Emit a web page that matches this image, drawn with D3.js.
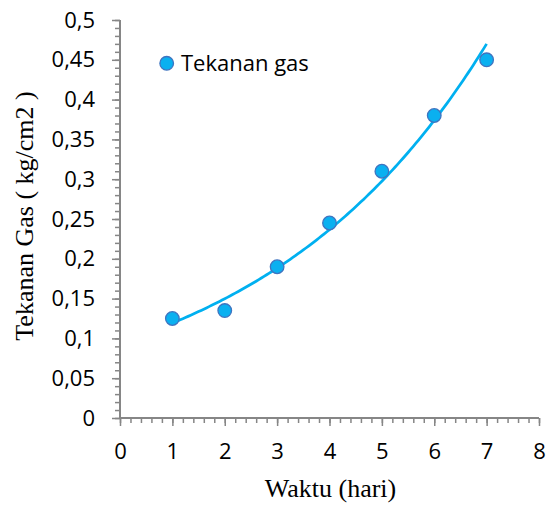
<!DOCTYPE html>
<html>
<head>
<meta charset="utf-8">
<script src="https://cdn.jsdelivr.net/npm/d3@7"></script>
<style>
  html, body { margin: 0; padding: 0; background: #fff; }
  svg { display: block; }
</style>
</head>
<body>
<svg id="chart" width="553" height="507"></svg>
<script>
// ---- data ----
const days = [1, 2, 3, 4, 5, 6, 7];
const pressure = [0.125, 0.135, 0.19, 0.245, 0.31, 0.38, 0.45];
const seriesName = "Tekanan gas";
const xTicks = [0, 1, 2, 3, 4, 5, 6, 7, 8];
const yTicks = [0, 0.05, 0.1, 0.15, 0.2, 0.25, 0.3, 0.35, 0.4, 0.45, 0.5];
const yTickLabels = ["0", "0,05", "0,1", "0,15", "0,2", "0,25", "0,3", "0,35", "0,4", "0,45", "0,5"];
const xTitle = "Waktu (hari)";
const yTitle = "Tekanan Gas ( kg/cm2 )";

// ---- layout ----
const svg = d3.select("#chart");
const x = d3.scaleLinear().domain([0, 8]).range([120, 539]);
const y = d3.scaleLinear().domain([0, 0.5]).range([418, 20]);
const axisColor = "#868686";
const lineColor = "#00B0F0";
const tickFont = "'Open Sans', sans-serif";

// minor ticks
const xMinor = d3.range(0, 8.0001, 0.2);
const yMinor = d3.range(0, 0.50001, 0.01);

const gxMinor = svg.append("g").attr("transform", `translate(0,${y(0)})`)
  .call(d3.axisBottom(x).tickValues(xMinor).tickSize(5).tickFormat(""));
const gyMinor = svg.append("g").attr("transform", `translate(${x(0)},0)`)
  .call(d3.axisLeft(y).tickValues(yMinor).tickSize(5).tickFormat(""));

const gx = svg.append("g").attr("transform", `translate(0,${y(0)})`)
  .call(d3.axisBottom(x).tickValues(xTicks).tickSize(8).tickPadding(17).tickFormat(d => String(d)));
const gy = svg.append("g").attr("transform", `translate(${x(0)},0)`)
  .call(d3.axisLeft(y).tickValues(yTicks).tickSize(8).tickPadding(17)
    .tickFormat((d, i) => yTickLabels[i]));

[gxMinor, gyMinor, gx, gy].forEach(g => {
  g.selectAll("path.domain").attr("stroke", axisColor).attr("stroke-width", 2);
  g.selectAll(".tick line").attr("stroke", axisColor).attr("stroke-width", 1.5);
});
gxMinor.select("path.domain").remove();
gyMinor.select("path.domain").remove();
gx.select("path.domain").attr("d", `M${x(0)},0H${x(8)}`);
gy.select("path.domain").attr("d", `M0,${y(0)}V${y(0.5)}`);
gx.selectAll(".tick text").attr("font-family", tickFont).attr("font-size", 22).attr("fill", "#000");
gy.selectAll(".tick text").attr("font-family", tickFont).attr("font-size", 22).attr("fill", "#000")
  .attr("x", -25);

// ---- exponential trendline (least squares on ln y) ----
const n = days.length;
const mx = d3.mean(days);
const ly = pressure.map(v => Math.log(v));
const my = d3.mean(ly);
const b = d3.sum(days, (d, i) => (d - mx) * (ly[i] - my)) / d3.sum(days, d => (d - mx) * (d - mx));
const a = Math.exp(my - b * mx);
const trendX = d3.range(days[0], days[n - 1] + 1e-9, 0.05);
svg.append("path")
  .datum(trendX)
  .attr("fill", "none")
  .attr("stroke", lineColor)
  .attr("stroke-width", 2.75)
  .attr("d", d3.line().x(d => x(d)).y(d => y(a * Math.exp(b * d))).curve(d3.curveLinear));

// ---- markers ----
svg.append("g").selectAll("circle")
  .data(days)
  .join("circle")
  .attr("cx", d => x(d))
  .attr("cy", (d, i) => y(pressure[i]))
  .attr("r", 6.8)
  .attr("fill", "#0AB0F0")
  .attr("stroke", "#3F74C0")
  .attr("stroke-width", 1.3);

// ---- legend ----
const lg = svg.append("g");
lg.append("circle").attr("cx", 166.7).attr("cy", 63.3).attr("r", 6.8)
  .attr("fill", "#0AB0F0").attr("stroke", "#3F74C0").attr("stroke-width", 1.3);
lg.append("text").attr("x", 181).attr("y", 71)
  .attr("font-family", tickFont).attr("font-size", 22).attr("fill", "#000")
  .text(seriesName);

// ---- axis titles ----
svg.append("text")
  .attr("x", (x(0) + x(8)) / 2 + 1).attr("y", 497)
  .attr("text-anchor", "middle")
  .attr("font-family", "'Liberation Serif', 'Times New Roman', serif")
  .attr("font-size", 26).attr("fill", "#000")
  .text(xTitle);
svg.append("text")
  .attr("transform", `translate(33,${216}) rotate(-90)`)
  .attr("text-anchor", "middle")
  .attr("font-family", "'Liberation Serif', 'Times New Roman', serif")
  .attr("font-size", 26).attr("fill", "#000")
  .text(yTitle);
</script>
</body>
</html>
